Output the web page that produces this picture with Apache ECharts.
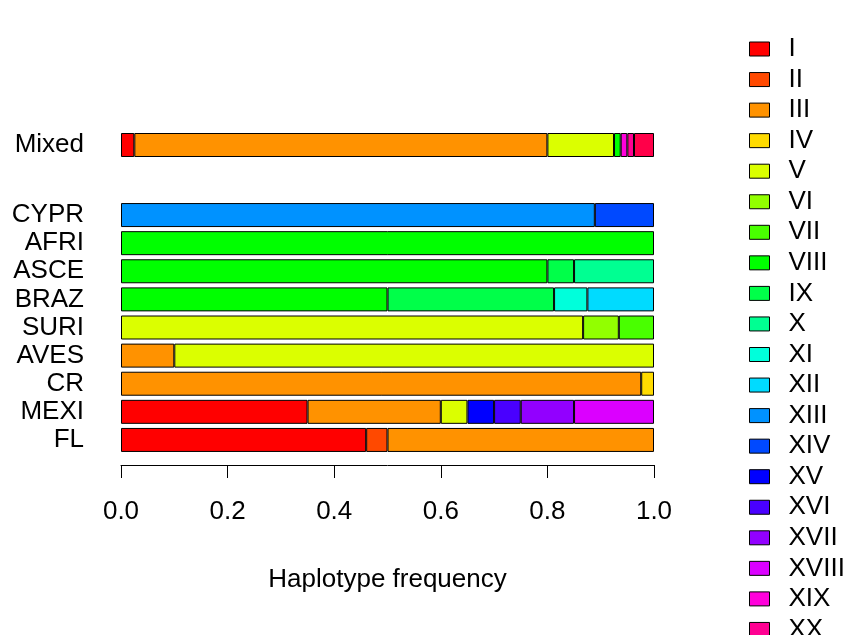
<!DOCTYPE html>
<html><head><meta charset="utf-8">
<script src="https://cdn.jsdelivr.net/npm/echarts@6/dist/echarts.min.js"></script>
<style>html,body{margin:0;padding:0;background:#fff}#c{width:848px;height:635px}</style>
</head><body><div id="c"></div>
<script>
// Haplotype names (legend) and colours (R rainbow(21))
const haplotypes = ['I','II','III','IV','V','VI','VII','VIII','IX','X','XI','XII','XIII','XIV','XV','XVI','XVII','XVIII','XIX','XX','XXI'];
const hapColors = ['#FF0000','#FF4900','#FF9200','#FFDB00','#DBFF00','#92FF00','#49FF00','#00FF00','#00FF49','#00FF92','#00FFDB','#00DBFF','#0092FF','#0049FF','#0000FF','#4900FF','#9200FF','#DB00FF','#FF00DB','#FF0092','#FF0049'];
// Population categories (top to bottom)
const populations = ['CYPR','AFRI','ASCE','BRAZ','SURI','AVES','CR','MEXI','FL'];
const mixedCategory = ['Mixed'];
// Haplotype frequencies per population, in haplotype order I..XXI
const CYPR  = [0,0,0,0,0,0,0,0,0,0,0,0,0.889,0.111,0,0,0,0,0,0,0];
const AFRI  = [0,0,0,0,0,0,0,1,0,0,0,0,0,0,0,0,0,0,0,0,0];
const ASCE  = [0,0,0,0,0,0,0,0.80,0.05,0.15,0,0,0,0,0,0,0,0,0,0,0];
const BRAZ  = [0,0,0,0,0,0,0,0.50,0.3125,0,0.0625,0.125,0,0,0,0,0,0,0,0,0];
const SURI  = [0,0,0,0,0.867,0.067,0.066,0,0,0,0,0,0,0,0,0,0,0,0,0,0];
const AVES  = [0,0,0.10,0,0.90,0,0,0,0,0,0,0,0,0,0,0,0,0,0,0,0];
const CR    = [0,0,0.976,0.024,0,0,0,0,0,0,0,0,0,0,0,0,0,0,0,0,0];
const MEXI  = [0.35,0,0.25,0,0.05,0,0,0,0,0,0,0,0,0,0.05,0.05,0.10,0.15,0,0,0];
const FL    = [0.46,0.04,0.50,0,0,0,0,0,0,0,0,0,0,0,0,0,0,0,0,0,0];
const Mixed = [0.025,0,0.775,0,0.125,0,0,0.0125,0,0,0,0,0,0,0,0,0,0,0.0125,0.0125,0.0375];
const xTicks = [0,0.2,0.4,0.6,0.8,1.0];

const popRows = [CYPR,AFRI,ASCE,BRAZ,SURI,AVES,CR,MEXI,FL];
const FONT = "'Liberation Sans', Arial, Helvetica, sans-serif";
const FS = 26;
const nz = v => (v > 0 ? v : null);

const series = [];
haplotypes.forEach((h, i) => {
  const style = {color: hapColors[i], borderColor: '#000', borderWidth: 1};
  series.push({
    name: h, type: 'bar', stack: 'pop', xAxisIndex: 1, yAxisIndex: 1,
    barWidth: 24, itemStyle: style,
    data: popRows.map(r => nz(r[i]))
  });
  series.push({
    name: h, type: 'bar', stack: 'mix', xAxisIndex: 0, yAxisIndex: 0,
    barWidth: 24, itemStyle: style,
    data: [nz(Mixed[i])]
  });
});

const chart = echarts.init(document.getElementById('c'), null, {renderer: 'canvas'});
chart.setOption({
  animation: false,
  backgroundColor: '#fff',
  textStyle: {fontFamily: FONT},
  grid: [
    {left: 121, right: 194, top: 131, height: 28},
    {left: 121, right: 194, top: 201, height: 253}
  ],
  xAxis: [
    {gridIndex: 0, type: 'value', min: 0, max: 1, show: false},
    {gridIndex: 1, type: 'value', min: 0, max: 1, interval: 0.2, position: 'bottom', offset: 11,
     axisLine: {show: true, lineStyle: {color: '#000', width: 1}},
     axisTick: {show: true, length: 13, lineStyle: {color: '#000', width: 1}},
     splitLine: {show: false},
     axisLabel: {color: '#000', fontSize: FS, fontFamily: FONT, margin: 34,
                 formatter: v => { const t = xTicks.find(x => Math.abs(x - v) < 1e-9); return t === undefined ? '' : t.toFixed(1); }},
     name: 'Haplotype frequency', nameLocation: 'middle', nameGap: 102,
     nameTextStyle: {color: '#000', fontSize: FS, fontFamily: FONT}}
  ],
  yAxis: [
    {gridIndex: 0, type: 'category', data: mixedCategory,
     axisLine: {show: false}, axisTick: {show: false},
     axisLabel: {color: '#000', fontSize: FS, fontFamily: FONT, margin: 37, interval: 0}},
    {gridIndex: 1, type: 'category', data: populations, inverse: true,
     axisLine: {show: false}, axisTick: {show: false},
     axisLabel: {color: '#000', fontSize: FS, fontFamily: FONT, margin: 37, interval: 0}}
  ],
  legend: {
    orient: 'vertical', left: 744, top: 31, height: 900,
    itemWidth: 20, itemHeight: 14, itemGap: 4.55,
    icon: 'rect',
    data: haplotypes,
    textStyle: {color: '#000', fontSize: FS, fontFamily: FONT, padding: [0,0,0,14]},
    itemStyle: {borderColor: '#000', borderWidth: 1}
  },
  series: series
});
</script></body></html>
